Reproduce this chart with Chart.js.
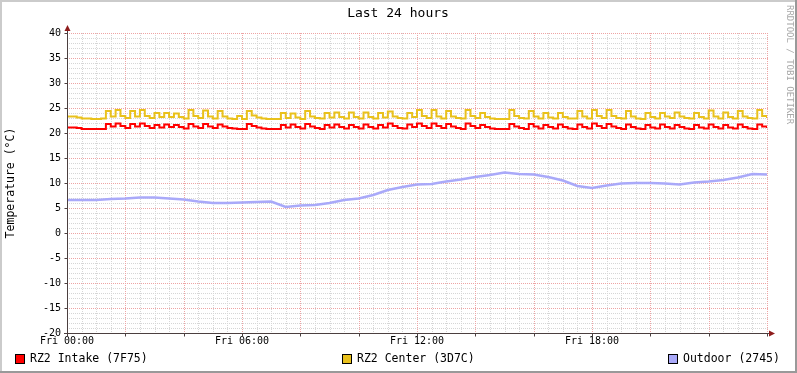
<!DOCTYPE html>
<html>
<head>
<meta charset="utf-8">
<script src="https://cdn.jsdelivr.net/npm/chart.js@4/dist/chart.umd.min.js"></script>
<style>
  html, body { margin: 0; padding: 0; background: #fff; }
  #wrap { width: 797px; height: 373px; }
</style>
</head>
<body>
<div id="wrap"><canvas id="rrd" width="797" height="373"></canvas></div>
<script>
// samples every 10 minutes over the last 24 h (index * 10 min)
const intakeC = [
  21.1, 21.1, 21.0, 20.8, 20.8, 20.8, 20.8, 20.8, 21.8, 21.3,
  21.9, 21.4, 21.0, 21.8, 21.3, 21.9, 21.4, 21.0, 21.6, 21.1,
  21.7, 21.2, 21.6, 21.2, 20.9, 21.8, 21.3, 21.0, 21.8, 21.3,
  21.0, 21.7, 21.3, 21.0, 20.9, 20.8, 20.8, 21.8, 21.4, 21.1,
  20.9, 20.8, 20.8, 20.8, 21.6, 21.1, 21.7, 21.2, 20.9, 21.8,
  21.3, 21.0, 20.8, 21.6, 21.1, 21.7, 21.2, 20.9, 21.6, 21.2,
  20.9, 21.7, 21.2, 20.9, 21.6, 21.1, 21.9, 21.4, 21.0, 20.9,
  21.7, 21.2, 21.9, 21.4, 21.0, 21.9, 21.4, 21.0, 21.8, 21.3,
  21.0, 20.8, 21.9, 21.4, 21.0, 21.6, 21.2, 20.9, 20.8, 20.8,
  20.8, 21.8, 21.3, 21.0, 20.8, 21.8, 21.3, 20.9, 21.6, 21.2,
  20.9, 21.7, 21.2, 20.9, 20.8, 21.7, 21.2, 20.9, 21.9, 21.4,
  21.0, 21.8, 21.3, 21.0, 20.8, 21.7, 21.2, 20.9, 20.8, 21.6,
  21.1, 20.9, 21.7, 21.2, 20.9, 21.6, 21.2, 20.9, 20.8, 21.6,
  21.1, 20.9, 21.7, 21.2, 20.9, 21.6, 21.1, 20.9, 21.7, 21.2,
  20.9, 20.8, 21.7, 21.3, 21.0
];
const centerC = [
  23.3, 23.3, 23.1, 22.9, 22.9, 22.8, 22.8, 22.9, 24.4, 23.3,
  24.6, 23.4, 23.0, 24.4, 23.3, 24.6, 23.4, 23.0, 24.0, 23.2,
  24.0, 23.2, 23.9, 23.2, 22.9, 24.6, 23.4, 23.0, 24.5, 23.3,
  22.9, 24.4, 23.3, 22.9, 22.8, 23.4, 22.8, 24.4, 23.5, 23.1,
  22.9, 22.8, 22.8, 22.8, 24.0, 23.0, 23.9, 23.1, 22.8, 24.4,
  23.3, 23.0, 22.9, 24.0, 23.1, 24.1, 23.2, 22.9, 24.1, 23.2,
  22.9, 24.1, 23.2, 22.9, 24.0, 23.1, 24.3, 23.3, 23.0, 22.9,
  24.0, 23.2, 24.6, 23.4, 23.0, 24.6, 23.3, 22.9, 24.4, 23.3,
  23.0, 22.9, 24.6, 23.4, 23.0, 24.0, 23.2, 22.9, 22.8, 22.8,
  22.8, 24.6, 23.4, 23.0, 22.9, 24.4, 23.3, 22.9, 24.0, 23.1,
  22.9, 24.0, 23.2, 22.9, 22.9, 24.4, 23.3, 22.9, 24.6, 23.4,
  23.0, 24.6, 23.4, 23.0, 22.9, 24.4, 23.3, 22.9, 22.8, 24.0,
  23.2, 22.9, 24.0, 23.3, 23.0, 24.1, 23.3, 23.0, 22.9, 24.0,
  23.2, 22.9, 24.5, 23.3, 22.9, 24.1, 23.2, 22.9, 24.4, 23.3,
  23.0, 22.9, 24.6, 23.4, 23.0
];
// outdoor, every 30 minutes
const outdoorC = [
  6.6, 6.6, 6.6, 6.8, 6.9, 7.1, 7.1, 6.9, 6.7, 6.3,
  6.0, 6.0, 6.1, 6.2, 6.3, 5.2, 5.5, 5.6, 6.0, 6.6,
  6.9, 7.6, 8.6, 9.2, 9.7, 9.8, 10.3, 10.7, 11.2, 11.6,
  12.1, 11.8, 11.7, 11.2, 10.5, 9.4, 9.0, 9.5, 9.9, 10.0,
  10.0, 9.9, 9.7, 10.1, 10.3, 10.6, 11.1, 11.8, 11.7
];

const seriesNames = ['RZ2 Intake (7F75)', 'RZ2 Center (3D7C)', 'Outdoor (2745)'];
const seriesColors = ['#ff0000', '#e9c11c', '#a9a9f9'];
const xTickHours = [0, 6, 12, 18];
const xTickLabels = ['Fri 00:00', 'Fri 06:00', 'Fri 12:00', 'Fri 18:00'];
const yMin = -20, yMax = 40;

const MONO = '"DejaVu Sans Mono", monospace';

const rrdDecor = {
  id: 'rrdDecor',
  beforeDraw(chart) {
    const ctx = chart.ctx;
    const W = chart.width, H = chart.height;
    ctx.save();
    ctx.fillStyle = '#ffffff';
    ctx.fillRect(0, 0, W, H);
    // 3d frame
    ctx.fillStyle = '#cbcbcb';
    ctx.fillRect(0, 0, W, 2);
    ctx.fillRect(0, 0, 2, H);
    ctx.fillStyle = '#999999';
    ctx.fillRect(0, H - 2, W, 2);
    ctx.fillRect(W - 2, 0, 2, H);
    ctx.restore();
  },
  beforeDatasetsDraw(chart) {
    const ctx = chart.ctx;
    const xs = chart.scales.x, ys = chart.scales.y;
    const a = chart.chartArea;
    ctx.save();
    ctx.lineWidth = 1;
    ctx.setLineDash([1, 1]);
    const hLine = (v, c) => {
      const y = Math.round(ys.getPixelForValue(v)) + 0.5;
      ctx.strokeStyle = c;
      ctx.beginPath(); ctx.moveTo(a.left, y); ctx.lineTo(a.right + 1, y); ctx.stroke();
    };
    const vLine = (h, c) => {
      const x = Math.round(xs.getPixelForValue(h)) + 0.5;
      ctx.strokeStyle = c;
      ctx.beginPath(); ctx.moveTo(x, a.top); ctx.lineTo(x, a.bottom); ctx.stroke();
    };
    for (let v = yMin; v <= yMax; v++) if (v % 5 !== 0) hLine(v, '#d6d6d6');
    for (let h = 0; h <= 24; h += 0.5) if (h % 2 !== 0) vLine(h, '#d6d6d6');
    for (let v = yMin; v <= yMax; v += 5) hLine(v, '#eea4a4');
    for (let h = 0; h <= 24; h += 2) vLine(h, '#eea4a4');
    ctx.restore();
  },
  afterDraw(chart) {
    const ctx = chart.ctx;
    const xs = chart.scales.x, ys = chart.scales.y;
    const a = chart.chartArea;
    const x0 = Math.round(xs.getPixelForValue(0)) + 0.5;
    const yb = Math.round(ys.getPixelForValue(yMin)) + 0.5;
    ctx.save();
    ctx.lineWidth = 1;
    ctx.strokeStyle = '#4b3f3f';
    // axes
    ctx.beginPath();
    ctx.moveTo(a.left - 3, yb); ctx.lineTo(a.right + 3, yb);
    ctx.moveTo(x0, yb + 3); ctx.lineTo(x0, a.top - 3);
    // ticks
    for (let v = yMin; v <= yMax; v += 5) {
      const y = Math.round(ys.getPixelForValue(v)) + 0.5;
      ctx.moveTo(x0 - 3, y); ctx.lineTo(x0, y);
    }
    for (let h = 0; h <= 24; h += 2) {
      const x = Math.round(xs.getPixelForValue(h)) + 0.5;
      ctx.moveTo(x, yb); ctx.lineTo(x, yb + 3);
    }
    ctx.stroke();
    // arrows
    ctx.fillStyle = '#8e1c1c';
    ctx.beginPath();
    ctx.moveTo(a.right + 2, yb - 3); ctx.lineTo(a.right + 8, yb); ctx.lineTo(a.right + 2, yb + 3);
    ctx.closePath(); ctx.fill();
    ctx.beginPath();
    ctx.moveTo(x0 - 3, a.top - 2); ctx.lineTo(x0, a.top - 8); ctx.lineTo(x0 + 3, a.top - 2);
    ctx.closePath(); ctx.fill();

    // title
    ctx.fillStyle = '#000';
    ctx.font = '13px ' + MONO;
    ctx.textAlign = 'center';
    ctx.textBaseline = 'middle';
    ctx.fillText('Last 24 hours', 398, 14);

    // y axis title
    ctx.save();
    ctx.translate(11, (a.top + a.bottom) / 2);
    ctx.rotate(-Math.PI / 2);
    ctx.font = '11.5px ' + MONO;
    ctx.fillText('Temperature (°C)', 0, 0);
    ctx.restore();

    // watermark
    ctx.save();
    ctx.translate(789, 5);
    ctx.rotate(Math.PI / 2);
    ctx.font = '9px ' + MONO;
    ctx.fillStyle = '#a8a8a8';
    ctx.textAlign = 'left';
    ctx.fillText('RRDTOOL / TOBI OETIKER', 0, 0);
    ctx.restore();

    // legend
    const lx = [15, 342, 668];
    ctx.font = '11.5px ' + MONO;
    ctx.textAlign = 'left';
    seriesNames.forEach((n, i) => {
      ctx.fillStyle = seriesColors[i];
      ctx.fillRect(lx[i], 354, 10, 10);
      ctx.strokeStyle = '#000';
      ctx.strokeRect(lx[i] + 0.5, 354.5, 9, 9);
      ctx.fillStyle = '#000';
      ctx.fillText(n, lx[i] + 15, 359.5);
    });
    ctx.restore();
  }
};

const fine = v => v.map((y, i) => ({ x: i / 6, y }));
const coarse = v => v.map((y, i) => ({ x: i / 2, y }));

new Chart(document.getElementById('rrd').getContext('2d'), {
  type: 'line',
  data: {
    datasets: [
      { label: seriesNames[2], data: coarse(outdoorC), borderColor: seriesColors[2], borderWidth: 2.5, pointRadius: 0, tension: 0 },
      { label: seriesNames[1], data: fine(centerC), borderColor: seriesColors[1], borderWidth: 2, pointRadius: 0, stepped: true },
      { label: seriesNames[0], data: fine(intakeC), borderColor: seriesColors[0], borderWidth: 2, pointRadius: 0, stepped: true }
    ]
  },
  options: {
    responsive: false,
    animation: false,
    layout: { padding: { top: 33, right: 30, bottom: 0, left: 0 } },
    plugins: { legend: { display: false }, title: { display: false }, tooltip: { enabled: false } },
    scales: {
      x: {
        type: 'linear', min: 0, max: 24,
        grid: { display: false, drawTicks: false },
        border: { display: false },
        afterFit: s => { s.height = 40; },
        afterBuildTicks: s => { s.ticks = xTickHours.map(v => ({ value: v })); },
        ticks: {
          padding: 2, maxRotation: 0, autoSkip: false,
          color: '#000', font: { family: MONO, size: 10 },
          callback: v => xTickLabels[xTickHours.indexOf(v)]
        }
      },
      y: {
        min: yMin, max: yMax,
        grid: { display: false, drawTicks: false },
        border: { display: false },
        afterFit: s => { s.width = 67; },
        ticks: { stepSize: 5, padding: 6, color: '#000', font: { family: MONO, size: 10 } }
      }
    }
  },
  plugins: [rrdDecor]
});
</script>
</body>
</html>
